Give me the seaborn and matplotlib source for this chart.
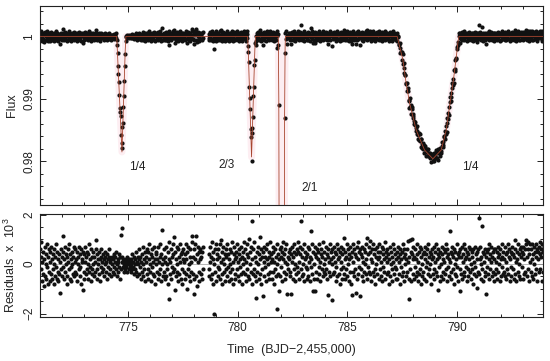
import numpy as np
import pandas as pd
import seaborn as sns
import matplotlib.pyplot as plt
from matplotlib.ticker import MultipleLocator

# residuals (x 10^3), one value per long-cadence point, before the data gap
resid_a = [
    0.6, -0.2, 0.9, 0.3, -0.7, 0.1, -0.4, 0.5, -0.9, 0.2, 0.7, -0.5, 0.0, 0.4, -0.6, 0.8, -0.1, -0.8, 0.3, 0.6,
    -0.3, 0.5, -0.7, 0.1, 0.7, -0.4, -0.6, 0.2, 0.4, -0.2, -0.8, 0.6, 0.0, -0.5, 0.3, 0.8, -0.1, -0.6, 0.5, -0.3,
    0.2, -0.7, 0.4, -0.4, -1.15, 0.1, 0.6, -0.2, -0.5, 0.3, 1.15, -0.1, 0.5, -0.6, 0.2, 0.7, -0.3, 0.0, 0.4, -0.8,
    0.3, -0.5, 0.6, 0.1, -0.2, 0.8, -0.6, 0.4, -0.1, 0.2, -0.7, 0.5, 0.0, -0.4, 0.3, 0.7, -0.5, 0.1, -0.3, 0.6,
    -0.4, 0.2, 0.5, -0.7, 0.0, 0.3, -0.2, 0.7, -0.5, 0.4, -0.1, 0.6, -0.8, 0.2, 0.1, -1.04, 0.5, -0.3, 0.4, -0.6,
    0.1, 0.7, -0.4, 0.3, -0.2, 0.5, -0.6, 0.0, 0.4, -0.3, 0.8, -0.1, 0.2, -0.7, 0.6, -0.4, 0.3, -0.2, 0.5, 0.0,
    -0.5, 0.3, 0.1, -0.3, 0.6, 0.97, -0.2, 0.4, -0.6, 0.2, 0.0, -0.4, 0.5, 0.2, -0.7, 0.3, -0.1, 0.6, -0.3, 0.1,
    0.4, -0.2, 0.2, -0.5, 0.3, 0.0, 0.5, -0.3, 0.1, -0.6, 0.4, 0.2, -0.1, 0.3, -0.4, 0.6, -0.2, 0.1, -0.5, 0.2,
    0.0, 0.3, -0.3, 0.2, -0.1, 0.4, -0.4, 0.1, 0.3, -0.2, 0.5, -0.5, 0.0, 0.2, -0.3, 0.1, 0.4, -0.1, -0.6, 0.3,
    1.18, -0.2, 0.1, 0.3, 1.46, -0.1, 0.2, -0.3, 0.0, 0.1, -0.2, 0.2, 0.0, -0.1, 0.3, -0.3, 0.1, 0.0, -0.2, 0.2,
    -0.1, 0.1, -0.3, 0.2, 0.0, -0.2, 0.4, -0.1, 0.1, -0.4, 0.3, 0.0, -0.2, 0.2, 0.5, -0.3, 0.1, -0.5, 0.3, 0.0,
    0.2, -0.4, 0.6, -0.1, 0.3, -0.6, 0.1, 0.4, -0.3, 0.7, 0.0, -0.5, 0.2, -0.2, 0.5, -0.7, 0.3, 0.1, -0.4, 0.6,
    -0.2, 0.5, -0.6, 0.2, 0.8, -0.3, 0.0, 0.4, -0.7, 0.3, -0.1, 0.6, -0.4, 0.1, 0.7, -0.5, 0.2, -0.8, 0.4, 0.0,
    0.5, -0.3, 0.2, -0.6, 0.7, 0.1, -0.4, 0.3, -0.2, 0.8, -0.7, 0.4, 0.0, 1.39, -0.5, 0.2, 0.6, -0.3, 0.1, -0.6,
    0.3, -0.5, 0.7, 0.0, -0.2, 0.5, -0.8, 0.2, -1.43, 0.9, -0.4, 0.1, 0.6, -0.6, 0.3, -0.1, 0.8, -0.3, 0.4, 1.08,
    -0.2, -1.04, 0.5, -0.5, 0.2, 0.7, -0.3, 0.0, 0.6, -0.7, 0.3, -0.4, 0.8, 0.1, -0.6, 0.4, -0.2, 0.5, -0.8, 0.2,
    0.6, -0.3, 0.1, -0.6, 0.4, 0.8, -0.4, 0.2, -1.0, 0.5, -0.2, 0.7, -0.5, 0.0, 0.3, -0.7, 0.6, 0.1, -0.3, 0.9,
    1.15, -0.4, 0.3, -1.2, 0.6, -0.6, 0.2, 0.8, 1.15, -0.5, 0.4, -0.9, 0.1, 0.7, -0.3, 0.5, -0.7, 0.2, 0.6, -0.4,
    0.3, -0.6, 0.5, -0.2, 0.7,
]

# residuals (x 10^3) after the data gap
resid_b = [
    -0.5, 0.4, -0.2, 0.7, 0.1, -0.6, 0.3, 0.9, -0.4, 0.2, -0.8, 0.5, 0.0, -2.0, 0.6, -0.3, 0.8, -0.7, 0.2, 0.4,
    -0.1, 0.6, -0.5, 0.3, -0.2, 0.8, -0.6, 0.97, 0.1, -0.4, 0.5, -0.8, 0.2, 0.7, -0.3, 0.0, 0.4, -0.7, 0.6, -0.2,
    0.3, -0.5, 0.8, -0.1, 0.4, -0.7, 0.2, 0.6, -0.3, 0.0, 0.5, -0.6, 0.9, -0.2, 0.1, -0.8, 0.4, 0.7, -0.4, 0.2,
    -0.6, 0.3, 0.5, -0.2, 0.8, -0.5, 0.1, 0.4, -0.7, 0.6, -0.1, 0.2, -0.4, 0.7, -0.8, 0.3, 0.0, 0.5, -0.3, 0.9,
    0.2, -0.4, 0.6, -0.7, 0.1, 0.8, -0.2, 0.4, -0.5, 0.3, 1.0, -0.6, 0.0, 0.5, -0.3, 0.7, -0.8, 1.74, 0.2, -0.4,
    0.6, -0.2, 0.9, -0.5, 0.3, -0.7, 0.1, -1.35, 0.5, -0.3, 0.7, 0.0, -0.6, 0.4, 1.1, -0.4, 0.2, 0.6, -0.8, 0.3,
    -0.2, 0.5, -1.3, 0.1, 0.7, -0.5, 0.3, -0.1, 0.6, -0.7, 0.2, 0.8, -0.4, 0.0, 0.5, -0.6, 0.3, 0.9, -0.3, 0.1,
    0.4, -0.6, 0.2, 0.7, -0.3, 0.5, -0.8, 0.1, 0.6, -0.2, 0.3, -0.5, 0.8, 0.0, -1.8, 0.4, -0.4, -1.1, 0.2, 0.6,
    -0.5, 0.3, 0.7, -0.1, 0.5, -0.7, 0.2, 0.9, -0.3, 0.4, -0.6, 0.1, 0.6, -0.4, 0.8, 0.0, -1.2, 0.3, -0.2, 0.5,
    0.2, -0.5, 0.6, -0.3, 0.4, -1.2, 0.1, 0.7, -0.6, 0.3, 0.8, -0.2, 0.5, -0.7, 0.0, 0.4, -0.4, 0.6, -0.1, 0.9,
    -0.3, 0.5, 0.1, -0.6, 0.4, 0.7, -0.2, 1.76, 0.3, -0.5, 0.6, 0.0, -0.4, 0.8, -0.7, 0.2, 0.5, -0.1, 0.3, -0.6,
    0.4, -0.2, 0.7, -0.5, 0.1, 0.6, -0.7, 0.3, -0.1, 1.32, 0.2, -0.4, 0.8, -1.07, 0.5, 0.0, -0.6, 0.4, 0.7, -1.07,
    0.3, -0.3, 0.6, -0.6, 0.2, 0.5, -0.1, 0.8, -0.4, 0.1, -0.7, 0.4, 0.6, -0.2, 0.3, -0.5, 0.9, 0.0, -0.3, 0.5,
    -0.4, 0.2, 0.7, -0.2, 0.4, -0.6, -1.25, 0.3, 0.6, -0.3, 0.1, 0.8, -0.5, 0.2, 0.5, -1.46, 0.0, 0.6, -0.4, 0.3,
    0.7, -0.3, 0.1, 0.5, -0.7, 0.4, -0.1, 0.8, -0.5, 0.2, 0.6, -0.4, 0.3, -0.8, 0.5, 0.1, -0.2, 0.7, -0.6, 0.4,
    -0.1, 0.6, -0.4, 1.04, 0.2, -0.6, 0.5, -0.2, 0.3, 0.8, -0.5, 0.0, 0.6, -0.7, 0.4, 0.2, -0.3, 0.7, -0.8, 0.3,
    -1.25, 0.5, -0.3, 0.8, 0.1, -0.5, 0.6, -0.2, 0.4, -1.15, 0.3, 0.7, -0.6, 0.2, 0.9, -0.4, 0.5, -0.1, 0.6, -1.3,
    0.4, -0.2, 0.7, -0.5, 0.3, 0.1, -0.7, 0.6, -0.3, 0.5, 0.0, 0.8, -0.4, 0.2, 1.07, -0.6, 0.4, -0.1, 0.7, -0.3,
    0.5, 0.93, -0.4, 0.2, -0.7, 0.6, 0.1, -0.3, 0.8, -0.5, 0.4, -0.2, 0.6, -0.8, 0.3, 0.0, 0.7, -0.4, 0.2, 0.5,
    -0.6, 0.3, 0.8, -0.2, 0.5, -0.5, 0.1, 0.7, -0.7, 0.4, -0.1, 0.6, -0.3, 0.2, 0.9, -0.6, 0.3, 0.5, -0.4, 0.1,
    0.6, -0.3, 0.4, -0.8, 0.2, 0.7, -0.5, 0.0, 0.5, -0.2, 0.3, -0.7, 0.8, 0.1, -0.4, 0.6, -0.1, 0.4, -0.6, 0.2,
    -0.2, 0.5, -0.6, 0.3, 0.7, -0.4, 0.1, 0.6, -0.8, 0.4, -0.1, 0.2, 0.5, -0.5, 0.8, -0.3, 0.3, -0.7, 0.6, 0.0,
    0.4, -0.5, 0.2, 0.6, -0.3, 0.1, 0.93, -0.6, -1.43, 0.3, 0.97, -0.2, 0.5, -0.7, 0.4, 1.0, -0.4, 0.2, 0.7, -0.6,
    0.3, -0.1, 0.6, -0.5, 0.2, 0.8, -0.3, 0.4, -0.7, 0.1, 0.5, -0.4, 0.7, -0.2, 0.3, -0.8, 0.6, 0.0, -0.5, 0.4,
    -0.3, 0.5, -0.6, 0.2, 0.7, -0.1, 0.4, -0.7, 0.6, 0.1, -0.4, 0.8, -0.2, 0.3, -0.5, 0.5, 0.0, -0.8, 0.4, 0.2,
    0.6, -0.4, 0.3, -0.2, 0.7, -0.6, 0.1, 0.5, -0.3, 0.8, -0.5, 0.2, 0.4, -1.04, 0.6, -0.1, 0.3, -0.7, 0.5, 0.0,
    -0.5, 0.4, 0.7, -0.3, 0.2, -0.6, 0.6, 0.1, -0.4, 0.5, -0.2, 0.8, -0.7, 0.3, 0.6, -0.1, 0.4, -0.5, 0.2, 1.32,
    0.1, -0.3, 0.5, -0.6, 0.4, 0.7, -0.2, 0.3, -0.8, 0.6, 0.0, -0.4, 0.5, 0.2, -0.5, 0.8, -0.1, 0.4, -0.7, 0.3,
    0.5, -0.2, -1.1, 0.6, -0.4, 0.3, 0.7, -0.6, 0.1, 0.4, -0.3, 0.8, -0.5, 0.2, 0.6, -0.1, 0.3, -0.7, 0.5, -0.2,
    0.4, -0.5, 0.2, 0.7, -0.3, 0.6, -0.6, 0.0, 0.5, -0.2, 0.3, -0.8, 0.6, 0.1, -0.4, 0.7, -0.1, 0.4, -0.5, 0.2,
    -0.97, 0.5, -0.3, 0.6, 1.87, -0.4, 0.2, 0.7, -0.6, 0.3, 0.0, 1.53, -0.2, 0.5, -0.7, 0.4, 0.1, -0.5, 0.6, -0.3,
    0.3, -1.2, 0.5, -0.1, 0.6, -0.4, 0.2, 0.8, -0.6, 0.4, -0.2, 0.1, 0.7, -0.5, 0.3, 0.5, -0.3, 0.6, -0.7, 0.2,
    -0.4, 0.6, 0.1, -0.2, 0.5, -0.6, 0.3, 0.7, -0.3, 0.0, 0.4, -0.7, 0.6, 0.2, -0.5, 0.8, -0.1, 0.3, -0.4, 0.5,
    0.2, -0.3, 0.7, -0.5, 0.4, 0.1, -0.6, 0.5, -0.2, 0.8, -0.4, 0.3, 0.6, -0.7, 0.2, -0.1, 0.5, -0.5, 0.4, 0.7,
    -0.2, 0.4, -0.6, 0.3, 0.6, -0.4, 0.97, 0.1, -0.7, 0.5, 0.2, -0.3, 0.8, -0.5, 0.4, 0.0, 0.6, -0.6, 0.3, 0.7,
    0.5, -0.1, 0.4, -0.6, 0.7, 0.2, -0.4, 0.6, -0.3, 0.8, 0.97, -0.5, 0.3, 0.9, -0.2, 0.6, -0.7, 0.4, 0.1, 0.8,
    -0.3, 0.6, 0.2, -0.5, 0.8, 0.4, -0.6, 0.7, 0.0, 0.5, -0.4, 0.8, 0.3, -0.2, 0.6, -0.7, 0.5, 0.2, 0.7, -0.3,
    0.9, 0.4, -0.2, 0.6, 0.3, 0.8, -0.7, -0.3, 0.5, 0.7,
]

cadence = 0.0204          # days (Kepler long cadence)
start_a, start_b = 771.0, 778.68

# fitted light-curve model
model_t = [771.0, 774.49, 774.52, 774.73, 774.88, 774.91,
           780.46, 780.49, 780.64, 780.79, 780.82,
           781.86, 781.883, 781.90, 781.95, 782.02, 782.09, 782.128, 782.148, 782.17, 782.185,
           787.28, 787.33, 787.39, 787.54, 787.69, 787.85, 788.15, 788.53, 788.91,
           789.29, 789.52, 789.67, 789.85, 790.0, 790.06, 790.10, 793.95]
model_f = [1.0, 1.0, 0.9978, 0.9815, 0.9978, 1.0,
           1.0, 0.9978, 0.9807, 0.9978, 1.0,
           1.0, 0.990, 0.965, 0.80, 0.60, 0.80, 0.955, 0.9876, 0.998, 1.0,
           1.0, 0.9993, 0.9984, 0.9963, 0.9925, 0.9893, 0.985, 0.9818, 0.9804,
           0.9818, 0.985, 0.9888, 0.9931, 0.9974, 0.9993, 1.0, 1.0]

eclipse_labels = ['1/4', '2/3', '2/1', '1/4']

t = np.concatenate([start_a + cadence * np.arange(len(resid_a)),
                    start_b + cadence * np.arange(len(resid_b))])
resid = np.array(resid_a + resid_b)
flux = np.interp(t, model_t, model_f) + resid / 1000.0
df = pd.DataFrame({'time': t, 'flux': flux, 'resid': resid})
model = pd.DataFrame({'time': model_t, 'flux': model_f})

sns.set_style('ticks')
plt.rcParams['font.family'] = ['Liberation Sans', 'DejaVu Sans']
plt.rcParams['mathtext.fontset'] = 'custom'
plt.rcParams['mathtext.rm'] = 'Liberation Sans'

fig = plt.figure(figsize=(5.5, 3.61), dpi=100)
ax1 = fig.add_axes([0.073, 0.432, 0.915, 0.552])
ax2 = fig.add_axes([0.073, 0.121, 0.915, 0.286])

# top: light curve with model
sns.lineplot(data=model, x='time', y='flux', ax=ax1, color='#fdeef2', lw=5,
             sort=False, estimator=None, zorder=1)
sns.scatterplot(data=df, x='time', y='flux', ax=ax1, color='#111111', s=9,
                linewidth=0, zorder=2)
sns.lineplot(data=model, x='time', y='flux', ax=ax1, color='#a8462f', lw=0.6,
             sort=False, estimator=None, zorder=3)

for lab, x, y in zip(eclipse_labels, [775.45, 779.5, 783.3, 790.6],
                     [0.9791, 0.9794, 0.9757, 0.9791]):
    ax1.text(x, y, lab, ha='center', va='center', fontsize=8.5, color='#222222')

ax1.set_xlim(771.0, 793.95)
ax1.set_ylim(0.973, 1.0049)
ax1.yaxis.set_minor_locator(MultipleLocator(0.002))
ax1.set_yticks([0.98, 0.99, 1.0])
ax1.set_yticklabels(['0.98', '0.99', '1'])
ax1.set_xlabel('')
ax1.set_ylabel('Flux', fontsize=9)
ax1.tick_params(labelbottom=False)

# bottom: residuals
ax2.axhline(0, color='#aaaaaa', lw=0.6, zorder=1)
sns.scatterplot(data=df, x='time', y='resid', ax=ax2, color='#111111', s=9,
                linewidth=0, zorder=2)
ax2.set_xlim(771.0, 793.95)
ax2.set_ylim(-2.15, 2.02)
ax2.set_yticks([-2, 0, 2])
ax2.set_yticklabels(['\u22122', '0', '2'])
ax2.yaxis.set_minor_locator(MultipleLocator(0.5))
ax2.set_xlabel('Time  (BJD\u22122,455,000)', fontsize=9, labelpad=7)
ax2.set_ylabel('Residuals  x  10$^3$', fontsize=9)

for ax in (ax1, ax2):
    ax.xaxis.set_major_locator(MultipleLocator(5))
    ax.xaxis.set_minor_locator(MultipleLocator(1))
    ax.tick_params(which='both', direction='in', top=True, right=True,
                   width=0.7, labelsize=8.5, colors='#222222')
    ax.tick_params(which='major', length=4.5)
    ax.tick_params(which='minor', length=2.5)
    ax.tick_params(axis='y', labelrotation=90)
    for lbl in ax.get_yticklabels():
        lbl.set_va('center')
    for sp in ax.spines.values():
        sp.set_linewidth(0.8)
        sp.set_color('#222222')

ax1.yaxis.set_label_coords(-0.045, 0.5)
ax2.yaxis.set_label_coords(-0.045, 0.5)

fig.savefig('out.png', dpi=100)
